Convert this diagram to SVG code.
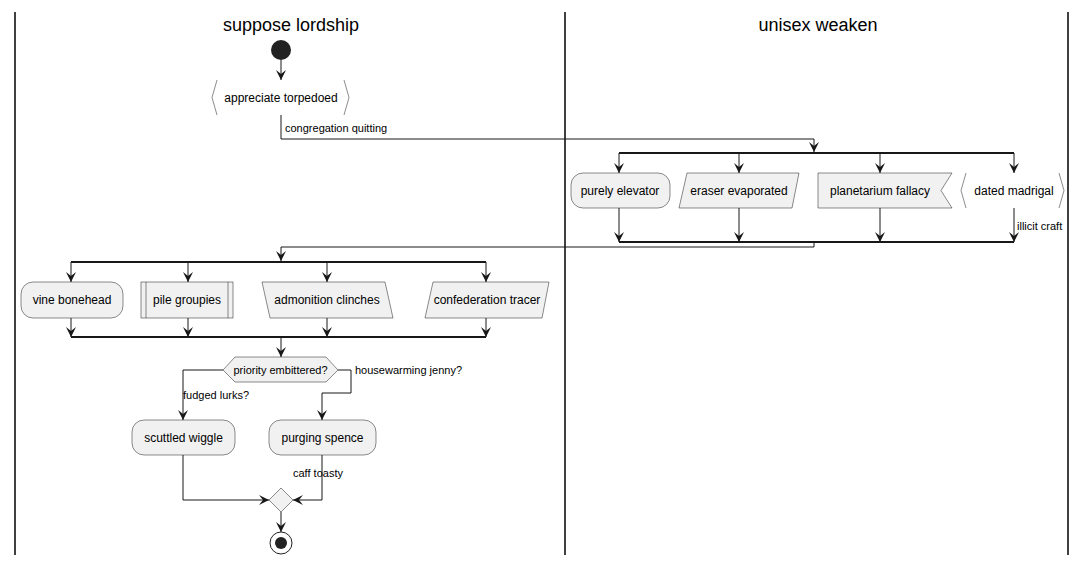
<svg xmlns="http://www.w3.org/2000/svg" width="1088" height="565" viewBox="0 0 1088 565">
<style>
.lane{stroke:#000;stroke-width:1.5;fill:none}
.title{font-family:"Liberation Sans",Arial,sans-serif;font-size:18px;fill:#000;text-anchor:middle}
.node{fill:#F1F1F1;stroke:#181818;stroke-width:0.5}
.brk{fill:none;stroke:#181818;stroke-width:0.5}
.t{font-family:"Liberation Sans",Arial,sans-serif;font-size:12px;fill:#000;text-anchor:middle}
.lbl{font-family:"Liberation Sans",Arial,sans-serif;font-size:11px;fill:#000}
.c{fill:none;stroke:#181818;stroke-width:1}
.ca{fill:none;stroke:#181818;stroke-width:1;marker-end:url(#ah)}
.bar{stroke:#181818;stroke-width:2}
</style>
<defs>
<marker id="ah" viewBox="0 0 10 10" refX="10" refY="5" markerWidth="10" markerHeight="10" markerUnits="userSpaceOnUse" orient="auto">
<path d="M0,0 L10,5 L0,10 L4,5 Z" fill="#181818"/>
</marker>
</defs>
<g id="lanes">
<line class="lane" x1="15" y1="12" x2="15" y2="555"/>
<line class="lane" x1="565" y1="12" x2="565" y2="555"/>
<line class="lane" x1="1068" y1="12" x2="1068" y2="555"/>
<text class="title" x="291" y="31">suppose lordship</text>
<text class="title" x="818" y="31">unisex weaken</text>
</g>
<g id="connectors">
<line class="ca" x1="281" y1="60" x2="281" y2="80"/>
<polyline class="ca" points="281,115 281,139 814,139 814,152"/>
<line class="bar" x1="619" y1="153" x2="1014" y2="153"/>
<line class="ca" x1="619" y1="153" x2="619" y2="173"/>
<line class="ca" x1="739" y1="153" x2="739" y2="173"/>
<line class="ca" x1="880" y1="153" x2="880" y2="173"/>
<line class="ca" x1="1014" y1="153" x2="1014" y2="173"/>
<line class="ca" x1="619" y1="208" x2="619" y2="242"/>
<line class="ca" x1="739" y1="208" x2="739" y2="242"/>
<line class="ca" x1="880" y1="208" x2="880" y2="242"/>
<line class="ca" x1="1014" y1="208" x2="1014" y2="242"/>
<line class="bar" x1="619" y1="242" x2="1014" y2="242"/>
<polyline class="ca" points="814,242 814,247 281,247 281,261"/>
<line class="bar" x1="71" y1="262" x2="486" y2="262"/>
<line class="ca" x1="71" y1="262" x2="71" y2="282"/>
<line class="ca" x1="188" y1="262" x2="188" y2="282"/>
<line class="ca" x1="327" y1="262" x2="327" y2="282"/>
<line class="ca" x1="486" y1="262" x2="486" y2="282"/>
<line class="ca" x1="71" y1="318" x2="71" y2="337"/>
<line class="ca" x1="188" y1="318" x2="188" y2="337"/>
<line class="ca" x1="327" y1="318" x2="327" y2="337"/>
<line class="ca" x1="486" y1="318" x2="486" y2="337"/>
<line class="bar" x1="71" y1="337" x2="486" y2="337"/>
<line class="ca" x1="281" y1="337" x2="281" y2="357"/>
<polyline class="ca" points="223,370 183,370 183,420"/>
<polyline class="ca" points="338,370 351,370 351,393 322,393 322,420"/>
<polyline class="ca" points="183,455 183,500 269,500"/>
<polyline class="ca" points="322,455 322,500 293,500"/>
<line class="ca" x1="281" y1="512" x2="281" y2="532"/>
<text class="lbl" x="285" y="132">congregation quitting</text>
<text class="lbl" x="1017" y="230">illicit craft</text>
<text class="lbl" x="183" y="399">fudged lurks?</text>
<text class="lbl" x="355" y="374">housewarming jenny?</text>
<text class="lbl" x="293" y="477">caff toasty</text>
</g>
<g id="start"><circle cx="281" cy="50" r="10" fill="#222"/></g>
<g id="appreciate-torpedoed">
<polyline class="brk" points="217,80 212,97.5 217,115"/>
<polyline class="brk" points="344,80 349,97.5 344,115"/>
<text class="t" x="281" y="102">appreciate torpedoed</text>
</g>
<g id="purely-elevator">
<rect class="node" x="571" y="173" width="99" height="35" rx="12"/>
<text class="t" x="620" y="195">purely elevator</text>
</g>
<g id="eraser-evaporated">
<polygon class="node" points="687,173 799,173 792,208 679,208"/>
<text class="t" x="739" y="195">eraser evaporated</text>
</g>
<g id="planetarium-fallacy">
<polygon class="node" points="818,173 952,173 941,190.5 952,208 818,208"/>
<text class="t" x="880" y="195">planetarium fallacy</text>
</g>
<g id="dated-madrigal">
<polyline class="brk" points="966,173 961,190.5 966,208"/>
<polyline class="brk" points="1059,173 1064,190.5 1059,208"/>
<text class="t" x="1014" y="195">dated madrigal</text>
</g>
<g id="vine-bonehead">
<rect class="node" x="21" y="282" width="102" height="36" rx="12"/>
<text class="t" x="72" y="304">vine bonehead</text>
</g>
<g id="pile-groupies">
<rect class="node" x="141" y="282" width="92" height="36"/>
<line class="brk" x1="146" y1="282" x2="146" y2="318"/>
<line class="brk" x1="228" y1="282" x2="228" y2="318"/>
<text class="t" x="187" y="304">pile groupies</text>
</g>
<g id="admonition-clinches">
<polygon class="node" points="262,282 385,282 393,318 270,318"/>
<text class="t" x="327" y="304">admonition clinches</text>
</g>
<g id="confederation-tracer">
<polygon class="node" points="433,282 549,282 542,318 425,318"/>
<text class="t" x="487" y="304">confederation tracer</text>
</g>
<g id="priority-embittered">
<polygon class="node" points="223,370 235,357 326,357 338,370 326,382 235,382"/>
<text class="lbl" x="280.5" y="374" text-anchor="middle">priority embittered?</text>
</g>
<g id="scuttled-wiggle">
<rect class="node" x="132" y="420" width="103" height="35" rx="12"/>
<text class="t" x="183.5" y="442">scuttled wiggle</text>
</g>
<g id="purging-spence">
<rect class="node" x="269" y="420" width="107" height="35" rx="12"/>
<text class="t" x="322.5" y="442">purging spence</text>
</g>
<g id="merge">
<polygon class="node" points="281,488 293,500 281,512 269,500"/>
</g>
<g id="end">
<circle cx="281" cy="543" r="11" fill="#fff" stroke="#222" stroke-width="1"/>
<circle cx="281" cy="543" r="6" fill="#222"/>
</g>
</svg>
